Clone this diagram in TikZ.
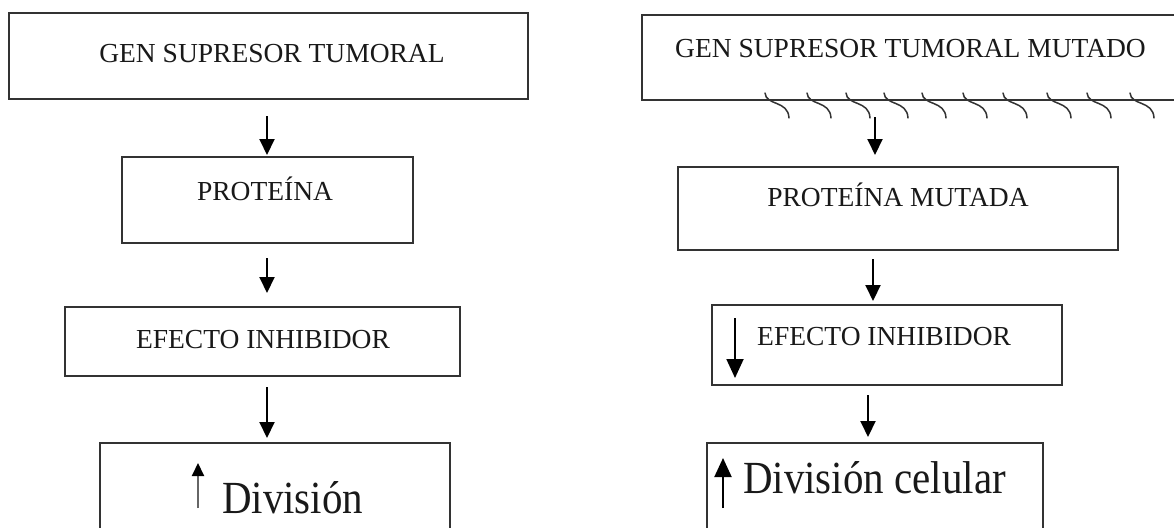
\documentclass[tikz,border=0pt]{standalone}
\usepackage{fontspec}
\setmainfont{Liberation Serif}
\usetikzlibrary{arrows.meta}
\begin{document}
\begin{tikzpicture}[x=1pt,y=-1pt,
  boxnode/.style={draw=black!80,line width=1.6pt,rectangle,inner sep=0,outer sep=0},
  lbl/.style={inner sep=0,font=\fontsize{27.5}{33}\selectfont,text=black!90},
  biglbl/.style={inner sep=0,font=\fontsize{46}{52}\selectfont,text=black!90,xscale=0.89,anchor=base west},
  arr/.style={line width=2pt,draw=black,-{Triangle[width=15pt,length=16pt]}},
  innerarr/.style={line width=1.8pt,draw=black,-{Triangle[width=17pt,length=19pt]}},
  uparr/.style={line width=2pt,draw=black!60,-{Triangle[width=12pt,length=13pt,color=black]}},
  uparrb/.style={line width=2pt,draw=black,-{Triangle[width=17pt,length=19pt]}},
  squig/.style={line width=1.5pt,draw=black!80,line cap=round}]
\fill[white] (0,0) rectangle (1174,527);
\useasboundingbox (0,0) rectangle (1174,527);

% left column
\node[boxnode,minimum width=519pt,minimum height=86pt] (L1) at (268.5,56) {};
\node[boxnode,minimum width=291pt,minimum height=86pt] (L2) at (267.5,200) {};
\node[boxnode,minimum width=395pt,minimum height=69pt] (L3) at (262.5,341.5) {};
\node[boxnode,minimum width=350pt,minimum height=117pt] (L4) at (275,501.5) {};

\node[lbl,anchor=base] (t1) at (272,63) {GEN SUPRESOR TUMORAL};
\node[lbl,anchor=base] (t2) at (265,200) {PROTEÍNA};
\node[lbl,anchor=base] (t3) at (263,348) {EFECTO INHIBIDOR};
\node[biglbl] (t4) at (222,513) {División};

\coordinate (xL) at (267,0);
\draw[arr,shorten <=17pt,shorten >=2pt] (L1.south -| xL) -- (L2.north -| xL);
\draw[arr,shorten <=15pt,shorten >=14pt] (L2.south -| xL) -- (L3.north -| xL);
\draw[arr,shorten <=11pt,shorten >=5pt] (L3.south -| xL) -- (L4.north -| xL);
\draw[uparr] ([shift={(98,65)}]L4.north west) -- ([shift={(98,20)}]L4.north west);

% right column
\node[boxnode,minimum width=548pt,minimum height=85pt] (R1) at (916,57.5) {};
\node[boxnode,minimum width=440pt,minimum height=83pt] (R2) at (898,208.5) {};
\node[boxnode,minimum width=350pt,minimum height=80pt] (R3) at (887,345) {};
\node[boxnode,minimum width=336pt,minimum height=117pt] (R4) at (875,501.5) {};

\node[lbl,anchor=base west] (u1) at (675,57) {GEN SUPRESOR TUMORAL MUTADO};
\node[lbl,anchor=base] (u2) at (898,206) {PROTEÍNA MUTADA};
\node[lbl,anchor=base west] (u3) at (757,345) {EFECTO INHIBIDOR};
\node[biglbl] (u4) at (743,493) {División celular};

\foreach \x in {765,807,846,884,922,963,1003,1047,1087,1130}
  \draw[squig] (\x,93) .. controls (\x+1,106) and (\x+23,100) .. (\x+24,118);

\coordinate (xa) at (875,0);
\coordinate (xb) at (873,0);
\coordinate (xc) at (868,0);
\draw[arr,shorten <=17pt,shorten >=12pt] (R1.south -| xa) -- (R2.north -| xa);
\draw[arr,shorten <=9pt,shorten >=4pt] (R2.south -| xb) -- (R3.north -| xb);
\draw[arr,shorten <=10pt,shorten >=6pt] (R3.south -| xc) -- (R4.north -| xc);
\draw[innerarr] ([shift={(23,13)}]R3.north west) -- ([shift={(23,73)}]R3.north west);
\draw[uparrb] ([shift={(16,65)}]R4.north west) -- ([shift={(16,15)}]R4.north west);
\end{tikzpicture}
\end{document}
